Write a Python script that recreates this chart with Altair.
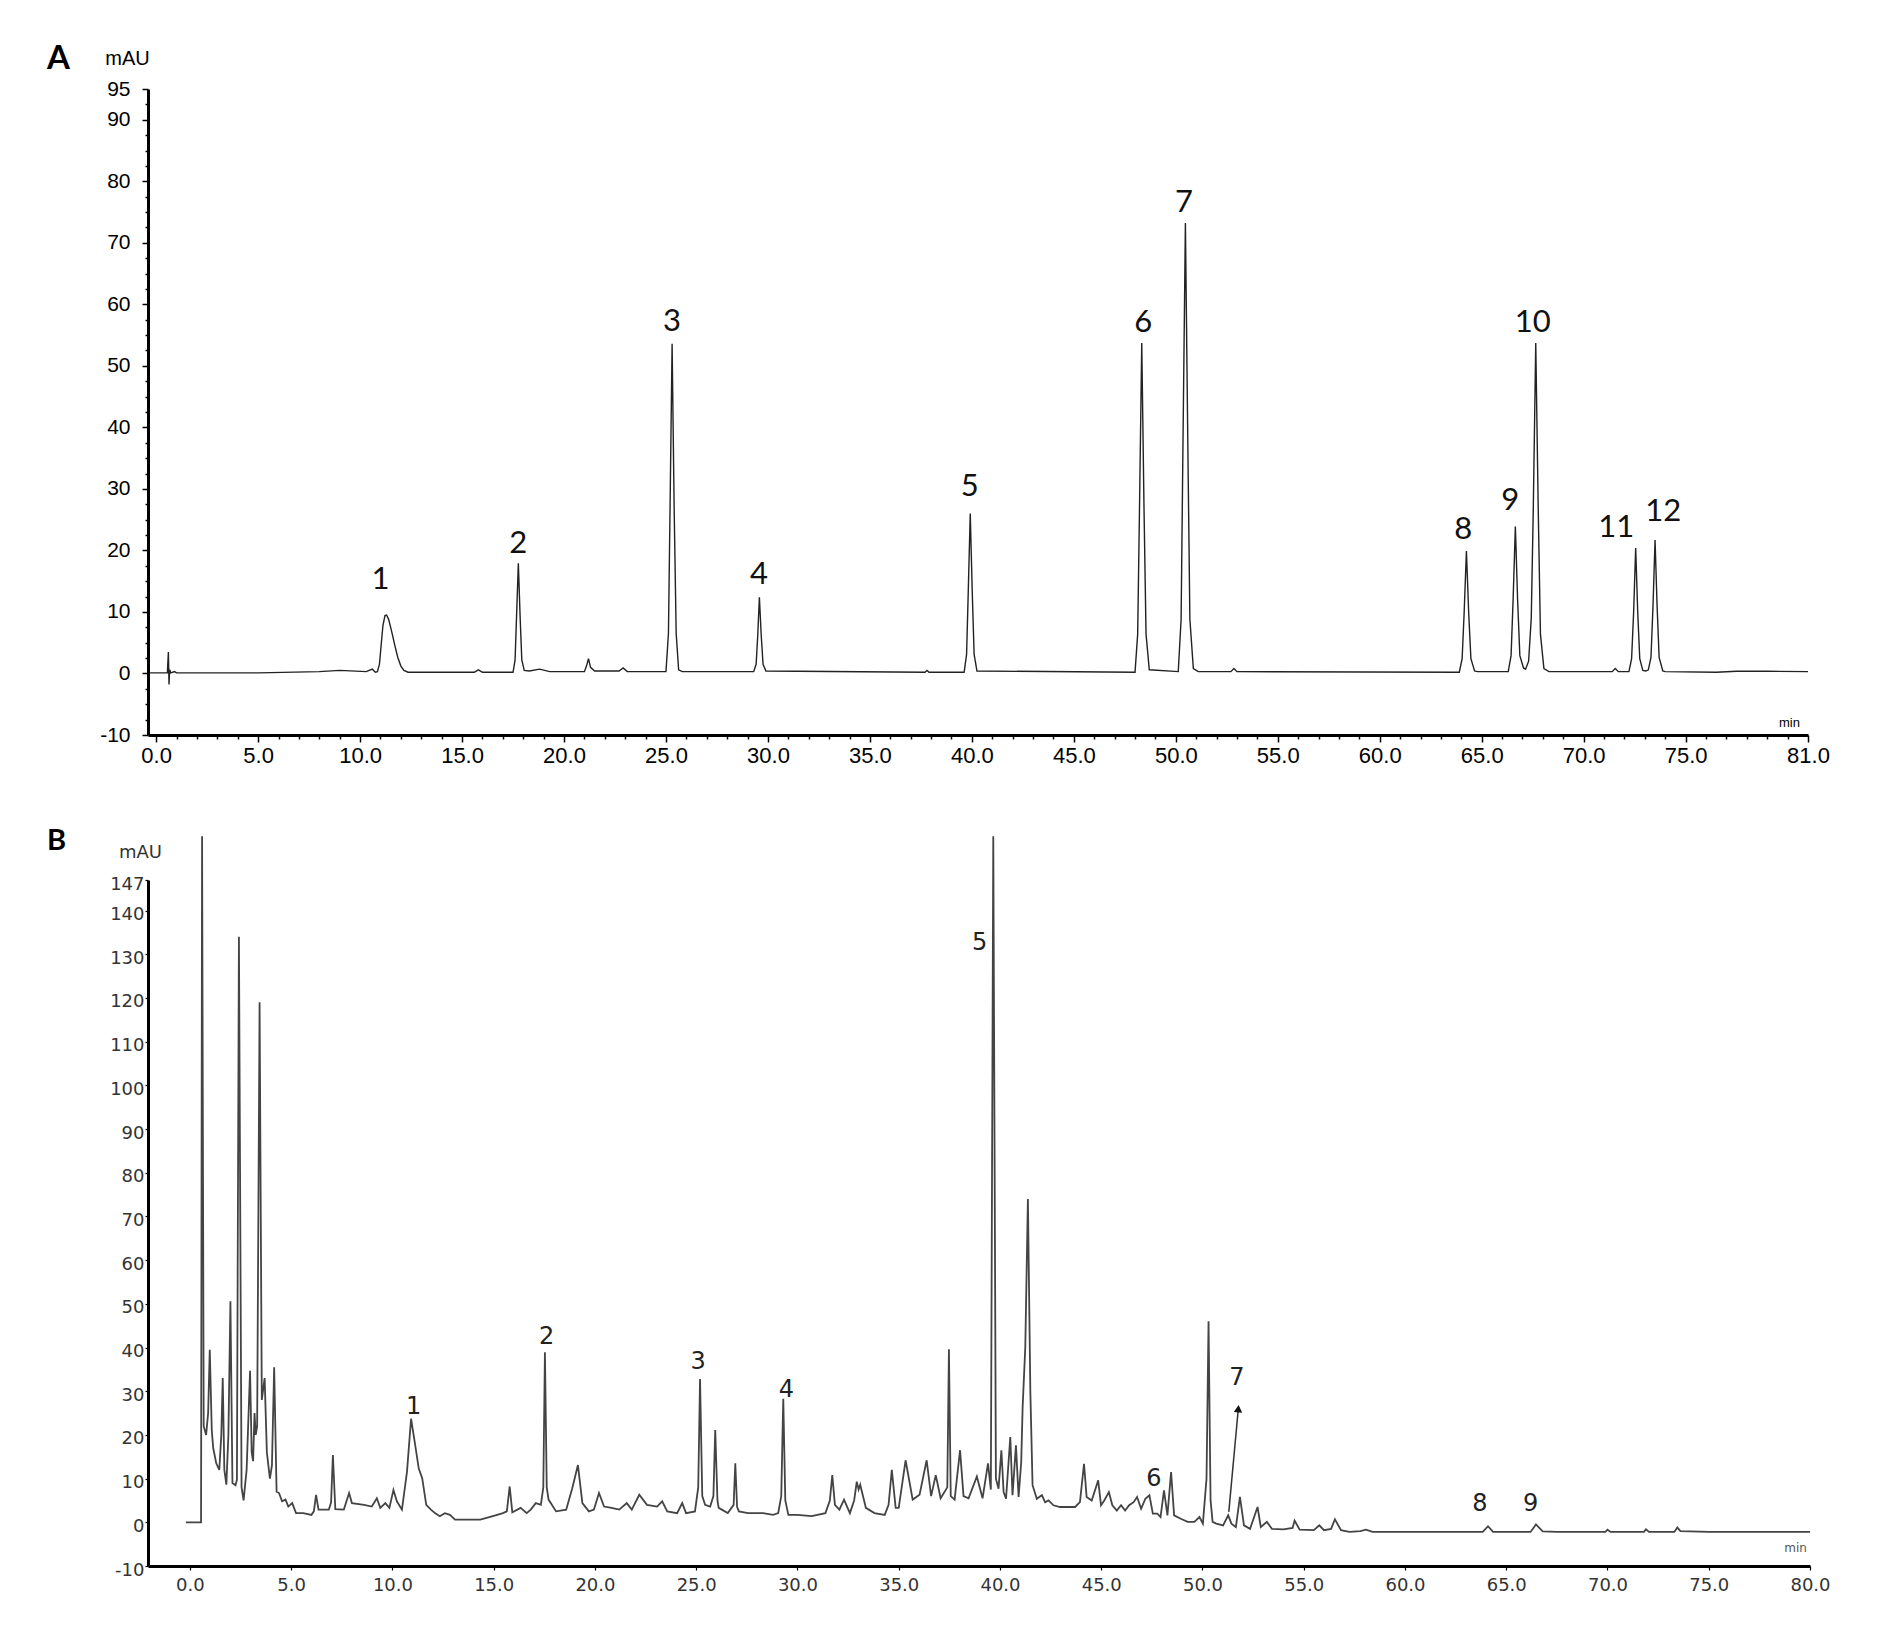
import altair as alt
import pandas as pd

# ---------------- Panel A: standard mixture chromatogram ----------------
a_time = [-0.3, 0.55, 0.6, 0.63, 0.66, 0.72, 0.9, 1.0, 5.0, 8.0, 9.0, 10.3, 10.6, 10.75,
          10.85, 10.95, 11.03, 11.12, 11.22, 11.3, 11.4, 11.55, 11.7, 11.85, 12.0, 12.15, 12.35,
          15.6, 15.8, 16.0,
          17.5, 17.6, 17.67, 17.76, 17.85, 17.93, 18.05, 18.3, 18.8, 19.3,
          21.0, 21.1, 21.2, 21.3, 21.5, 22.7, 22.9, 23.1,
          25.0, 25.12, 25.2, 25.3, 25.4, 25.5, 25.62, 25.8,
          29.3, 29.42, 29.5, 29.58, 29.67, 29.76, 29.9,
          37.7, 37.8, 37.9,
          39.62, 39.74, 39.82, 39.92, 40.02, 40.11, 40.25,
          48.0, 48.13, 48.22, 48.33, 48.44, 48.54, 48.7,
          50.12, 50.26, 50.35, 50.47, 50.59, 50.69, 50.86, 51.1,
          52.7, 52.85, 53.0,
          63.9, 64.04, 64.14, 64.25, 64.36, 64.47, 64.65, 64.8,
          66.3, 66.44, 66.54, 66.65, 66.76, 66.87, 67.05, 67.15,
          67.3, 67.43, 67.53, 67.65, 67.77, 67.88, 68.05, 68.3,
          71.4, 71.55, 71.7,
          72.22, 72.35, 72.45, 72.55, 72.65, 72.75, 72.9, 73.05,
          73.17, 73.3, 73.4, 73.5, 73.6, 73.7, 73.88, 74.0,
          76.5, 77.5, 79.0, 81.0]
a_signal = [0.1, 0.1, 3.5, -1.8, 0.6, 0.1, 0.3, 0.1, 0.1, 0.3, 0.5, 0.3, 0.7, 0.2,
            0.3, 1.5, 4.5, 7.8, 9.4, 9.5, 8.8, 6.8, 4.6, 2.6, 1.2, 0.5, 0.2,
            0.2, 0.6, 0.2,
            0.2, 2.2, 9.0, 17.9, 9.0, 2.2, 0.5, 0.4, 0.7, 0.3,
            0.3, 1.2, 2.4, 1.0, 0.4, 0.4, 0.9, 0.3,
            0.3, 6.5, 27.0, 53.6, 27.0, 6.5, 0.6, 0.3,
            0.3, 1.5, 6.2, 12.4, 6.2, 1.5, 0.4,
            0.2, 0.5, 0.2,
            0.2, 3.1, 13.0, 26.0, 13.0, 3.1, 0.4,
            0.2, 6.4, 27.0, 53.7, 27.0, 6.4, 0.6,
            0.3, 8.8, 37.0, 73.2, 37.0, 8.8, 0.8, 0.3,
            0.3, 0.8, 0.3,
            0.2, 2.4, 10.0, 19.9, 10.0, 2.4, 0.4, 0.3,
            0.3, 2.9, 12.0, 23.9, 12.0, 2.9, 0.9, 0.7,
            2.0, 9.0, 27.0, 53.7, 27.0, 6.4, 0.8, 0.3,
            0.3, 0.8, 0.3,
            0.3, 2.4, 10.0, 20.4, 10.0, 2.4, 0.5, 0.4,
            0.6, 2.6, 11.0, 21.7, 11.0, 2.6, 0.4, 0.3,
            0.2, 0.35, 0.35, 0.3]

a_peak_text = ["1", "2", "3", "4", "5", "6", "7", "8", "9", "10", "11", "12"]
a_peak_time = [11.0, 17.75, 25.3, 29.56, 39.9, 48.4, 50.4, 64.1, 66.4, 67.5, 71.6, 73.9]
a_peak_signal = [15.2, 21.0, 57.1, 16.0, 30.3, 57.0, 76.4, 23.3, 28.0, 56.9, 23.6, 26.2]

a_y_major = [-10, 0, 10, 20, 30, 40, 50, 60, 70, 80, 90, 95]
a_y_ticks = [v / 2 for v in range(-20, 191, 5)]
a_x_major = [0, 5, 10, 15, 20, 25, 30, 35, 40, 45, 50, 55, 60, 65, 70, 75, 81]
a_x_ticks = list(range(0, 82))

# ---------------- Panel B: sample chromatogram ----------------
b_time = [-0.2, 0.55, 0.6, 0.68, 0.8, 0.9, 0.98, 1.08, 1.15, 1.3, 1.45, 1.55, 1.62, 1.7, 1.8,
          1.9, 2.0, 2.1, 2.25, 2.32, 2.42, 2.55, 2.65, 2.8, 2.97, 3.05, 3.12, 3.19, 3.25, 3.32,
          3.44, 3.55, 3.69, 3.8, 3.95, 4.05, 4.16, 4.28, 4.4, 4.55, 4.72, 4.86, 5.05, 5.24, 5.6,
          6.0, 6.12, 6.23, 6.35, 6.86, 6.97, 7.06, 7.18, 7.6, 7.86, 8.0, 8.6, 8.98, 9.23, 9.4,
          9.65, 9.85, 10.05, 10.22, 10.47, 10.72, 10.92, 11.1, 11.3, 11.47, 11.67, 11.9, 12.1,
          12.34, 12.59, 12.84, 13.09, 14.34, 14.96, 15.46, 15.65, 15.79, 15.92, 16.33, 16.63,
          16.83, 17.08, 17.33, 17.45, 17.53, 17.62, 17.71, 18.08, 18.58, 18.88, 19.16, 19.38,
          19.7, 19.95, 20.2, 20.45, 20.82, 21.2, 21.57, 21.82, 22.19, 22.57, 23.07, 23.32,
          23.57, 24.06, 24.31, 24.5, 24.94, 25.1, 25.19, 25.3, 25.44, 25.69, 25.85, 25.94,
          26.05, 26.11, 26.56, 26.85, 26.93, 27.02, 27.11, 27.56, 28.3, 28.8, 29.05, 29.2,
          29.3, 29.4, 29.55, 30.0, 30.7, 31.38, 31.6, 31.72, 31.85, 32.07, 32.3, 32.59, 32.8,
          32.93, 33.02, 33.1, 33.38, 33.8, 34.31, 34.5, 34.66, 34.85, 35.0, 35.34, 35.69,
          36.03, 36.38, 36.6, 36.83, 37.07, 37.4, 37.48, 37.57, 37.76, 38.03, 38.2, 38.45,
          38.86, 39.14, 39.41, 39.55, 39.67, 39.8, 39.93, 40.07, 40.18, 40.3, 40.51, 40.62,
          40.79, 40.92, 41.05, 41.12, 41.25, 41.38, 41.5, 41.61, 41.82, 42.07, 42.23, 42.4,
          42.64, 42.97, 43.38, 43.71, 43.95, 44.15, 44.28, 44.53, 44.85, 44.99, 45.15, 45.38,
          45.55, 45.77, 45.98, 46.18, 46.38, 46.6, 46.77, 46.97, 47.18, 47.38, 47.55, 47.77,
          47.93, 48.1, 48.27, 48.45, 48.6, 48.93, 49.27, 49.6, 49.85, 50.02, 50.2, 50.3, 50.4,
          50.5, 50.68, 51.02, 51.27, 51.43, 51.65, 51.85, 52.05, 52.35, 52.72, 52.88, 53.18,
          53.43, 54.0, 54.45, 54.55, 54.8, 55.5, 55.77, 56.0, 56.35, 56.54, 56.84, 57.25, 57.8,
          58.07, 58.4, 62.0, 63.84, 64.1, 64.35, 66.2, 66.47, 66.8, 67.5, 69.9, 70.0, 70.15,
          71.8, 71.9, 72.05, 73.3, 73.45, 73.6, 75.0, 80.0]
b_signal = [0.0, 0.0, 157.0, 22.0, 20.0, 25.0, 39.5, 21.0, 17.0, 13.5, 12.0, 20.0, 33.0, 12.0, 8.6,
            20.0, 50.6, 9.0, 8.5, 9.7, 134.0, 8.0, 5.0, 12.0, 34.7, 16.0, 14.0, 25.0, 20.0, 22.0,
            119.0, 28.0, 33.0, 16.0, 10.0, 13.0, 35.5, 7.0, 6.7, 4.8, 5.2, 3.6, 4.4, 2.1, 2.1,
            1.7, 2.5, 6.3, 2.9, 2.9, 4.5, 15.4, 3.0, 2.9, 6.7, 4.4, 4.0, 3.6, 5.5, 3.3,
            4.4, 3.3, 7.4, 4.8, 2.9, 11.6, 23.7, 18.4, 12.3, 10.1, 4.0, 2.9, 2.1,
            1.4, 2.1, 1.7, 0.6, 0.6, 1.4, 2.1, 2.5, 8.2, 2.3, 3.3, 2.1,
            2.9, 4.4, 4.0, 8.0, 38.9, 8.0, 5.2, 2.5, 2.9, 7.8, 13.1, 4.4,
            2.5, 2.9, 6.7, 3.6, 3.3, 2.9, 4.4, 2.9, 6.3, 4.0, 3.6, 4.8,
            2.5, 2.1, 4.4, 2.1, 2.5, 8.0, 32.8, 6.0, 4.0, 3.6, 6.0, 21.1,
            5.0, 3.3, 2.1, 4.0, 13.5, 3.5, 2.5, 2.1, 2.1, 1.7, 2.1, 6.0,
            28.3, 5.0, 1.7, 1.7, 1.4, 2.1, 5.0, 10.8, 4.0, 2.9, 5.2, 2.1, 5.0,
            9.3, 7.5, 8.6, 3.3, 2.1, 1.7, 4.0, 12.0, 3.3, 3.3, 14.2, 5.2,
            6.3, 14.2, 6.0, 10.8, 5.5, 8.0, 39.6, 6.0, 5.2, 16.5, 6.0, 5.5,
            10.5, 5.5, 13.5, 7.5, 157.0, 10.0, 7.7, 16.5, 6.9, 5.4, 19.5, 6.2,
            17.6, 5.8, 13.8, 26.4, 40.0, 74.0, 30.0, 8.5, 5.4, 6.2, 4.6, 5.0,
            3.9, 3.5, 3.5, 3.5, 4.6, 13.4, 5.8, 5.0, 9.6, 3.9, 5.0, 6.9,
            3.9, 2.7, 3.9, 2.7, 3.9, 4.6, 5.8, 3.1, 5.4, 6.2, 2.0, 2.0,
            1.2, 7.3, 1.6, 11.5, 1.6, 0.8, 0.1, 0.1, 1.2, -0.3, 10.0, 46.0, 5.0,
            0.1, -0.3, -0.7, 1.6, -0.3, -1.1, 5.8, -0.7, -1.5, 3.5, -1.1, 0.1,
            -1.5, -1.6, -1.3, 0.4, -1.7, -1.8, -0.7, -1.8, -1.5, 0.7, -1.8, -2.2, -2.0,
            -1.7, -2.2, -2.2, -2.2, -0.9, -2.2, -2.2, -0.5, -2.1, -2.2, -2.2, -1.7, -2.2,
            -2.2, -1.6, -2.2, -2.2, -1.2, -2.0, -2.2, -2.2]

b_peak_text = ["1", "2", "3", "4", "5", "6", "7", "8", "9"]
b_peak_time = [11.05, 17.62, 25.1, 29.45, 39.0, 47.6, 51.7, 63.7, 66.2]
b_peak_signal = [26.5, 42.4, 36.8, 30.3, 132.5, 10.0, 33.0, 4.3, 4.3]

b_arrow_time = [51.3, 51.77]
b_arrow_signal = [2.4, 26.0]

b_y_major = [-10, 0, 10, 20, 30, 40, 50, 60, 70, 80, 90, 100, 110, 120, 130, 140, 147]
b_x_major = [0, 5, 10, 15, 20, 25, 30, 35, 40, 45, 50, 55, 60, 65, 70, 75, 80]

# ---------------- build ----------------
A_W, A_H = 1660, 646
B_W, B_H = 1662, 686

df_a = pd.DataFrame({"t": a_time, "v": a_signal, "i": range(len(a_time))})
df_a_lab = pd.DataFrame({"t": a_peak_time, "v": a_peak_signal, "lab": a_peak_text})
df_b = pd.DataFrame({"t": b_time, "v": b_signal, "i": range(len(b_time))})
df_b_lab = pd.DataFrame({"t": b_peak_time, "v": b_peak_signal, "lab": b_peak_text})
df_b_arrow = pd.DataFrame({"t": [b_arrow_time[0]], "v": [b_arrow_signal[0]],
                           "t2": [b_arrow_time[1]], "v2": [b_arrow_signal[1]]})
df_b_head = pd.DataFrame({"t": [b_arrow_time[1]], "v": [b_arrow_signal[1]]})


def in_list(vals):
    return "indexof([" + ",".join(str(v) for v in vals) + "], datum.value) >= 0"


# Panel A encodings
ax_a_x = alt.Axis(
    values=a_x_ticks,
    labelExpr=in_list(a_x_major) + " ? format(datum.value, '.1f') : ''",
    tickSize={"condition": {"test": in_list(a_x_major), "value": 7}, "value": 4},
    tickColor="black", tickWidth=1.5, domainColor="black", domainWidth=3,
    labelFont="Liberation Sans", labelFontSize=22, labelColor="black",
    labelPadding=3, labelOverlap=False, labelFlush=False, grid=False,
    title="min", titleFont="Liberation Sans", titleFontSize=13, titleFontWeight="normal",
    titleColor="black", titleX=1641, titleY=-6, titleAlign="center", titleBaseline="bottom",
)
ax_a_y = alt.Axis(
    values=a_y_ticks,
    labelExpr=in_list(a_y_major) + " ? (datum.value + '') : ''",
    tickSize={"condition": {"test": in_list(a_y_major), "value": 6}, "value": 3},
    tickColor="black", tickWidth=1.5, domainColor="black", domainWidth=3,
    labelFont="Liberation Sans", labelFontSize=21, labelColor="black",
    labelPadding=12, labelOverlap=False, labelFlush=False, grid=False,
    title="mAU", titleFont="Liberation Sans", titleFontSize=20, titleFontWeight="normal",
    titleColor="black", titleAngle=0, titleX=-21, titleY=-31, titleAlign="center",
    titleBaseline="middle",
)
xa = alt.X("t:Q", scale=alt.Scale(domain=[-0.4, 81], nice=False, zero=False), axis=ax_a_x)
ya = alt.Y("v:Q", scale=alt.Scale(domain=[-10, 95], nice=False, zero=False), axis=ax_a_y)

a_line = alt.Chart(df_a).mark_line(color="#222222", strokeWidth=1.4).encode(x=xa, y=ya, order="i:Q")
a_text = alt.Chart(df_a_lab).mark_text(font="Lato", fontSize=31, color="#111111",
                                       baseline="middle", align="center").encode(x=xa, y=ya, text="lab:N")
chart_a = alt.layer(a_line, a_text).properties(
    width=A_W, height=A_H,
    title=alt.TitleParams("A", anchor="start", frame="group", dx=-101, dy=32, fontSize=33,
                          font="Lato", fontWeight="bold", color="black"),
)

# Panel B encodings
ax_b_x = alt.Axis(
    values=b_x_major, format=".1f",
    tickSize=4, tickColor="black", tickWidth=1.2, domainColor="black", domainWidth=3,
    labelFont="DejaVu Sans", labelFontSize=18, labelColor="#333333",
    labelPadding=6, labelOverlap=False, labelFlush=False, grid=False,
    title="min", titleFont="DejaVu Sans", titleFontSize=12, titleFontWeight="normal",
    titleColor="#555555", titleX=1647, titleY=-12, titleAlign="center", titleBaseline="bottom",
)
ax_b_y = alt.Axis(
    values=b_y_major, labelExpr="datum.value + ''",
    tickSize=3, tickColor="black", tickWidth=1.2, domainColor="black", domainWidth=3,
    labelFont="DejaVu Sans", labelFontSize=18, labelColor="#333333",
    labelPadding=1, labelOffset=4, labelOverlap=False, labelFlush=False, grid=False,
    title="mAU", titleFont="DejaVu Sans", titleFontSize=18, titleFontWeight="normal",
    titleColor="#333333", titleAngle=0, titleX=-8, titleY=-28, titleAlign="center",
    titleBaseline="middle",
)
xb = alt.X("t:Q", scale=alt.Scale(domain=[-2.07, 80], nice=False, zero=False), axis=ax_b_x)
yb = alt.Y("v:Q", scale=alt.Scale(domain=[-10, 147], nice=False, zero=False), axis=ax_b_y)

b_line = alt.Chart(df_b).mark_line(color="#444444", strokeWidth=1.8).encode(x=xb, y=yb, order="i:Q")
b_text = alt.Chart(df_b_lab).mark_text(font="DejaVu Sans", fontSize=24, color="#222222",
                                       baseline="middle", align="center").encode(x=xb, y=yb, text="lab:N")
b_arrow = alt.Chart(df_b_arrow).mark_rule(color="#333333", strokeWidth=1.5).encode(
    x=xb, y=yb, x2="t2:Q", y2="v2:Q")
b_head = alt.Chart(df_b_head).mark_point(shape="triangle-up", filled=True, color="#111111",
                                         size=70, opacity=1, angle=5).encode(x=xb, y=yb)
chart_b = alt.layer(b_line, b_arrow, b_head, b_text).properties(
    width=B_W, height=B_H,
    title=alt.TitleParams("B", anchor="start", frame="group", dx=-101, dy=27, fontSize=29,
                          font="Lato", fontWeight="bold", color="black"),
)

chart = alt.vconcat(chart_a, chart_b, spacing=60).properties(
    padding={"left": 39, "top": 35, "right": 10, "bottom": 5},
    background="white",
).configure_view(stroke=None)

chart.save("out.html", embed_options={"renderer": "svg", "actions": False})
